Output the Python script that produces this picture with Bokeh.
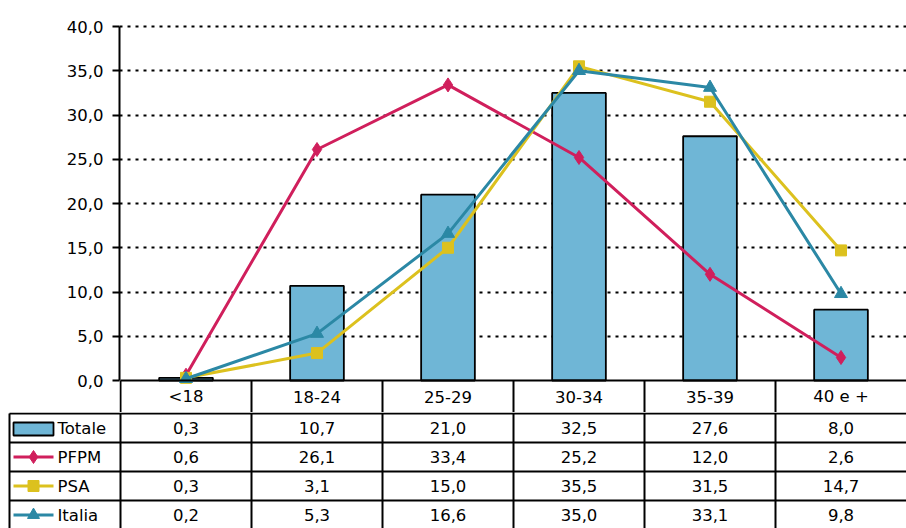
from bokeh.plotting import figure
from bokeh.layouts import column
from bokeh.models import Range1d, FixedTicker, CustomJSTickFormatter
from bokeh.core.properties import value
from bokeh.embed import file_html
from bokeh.resources import INLINE

# ---------------- data ----------------
categories = ["<18", "18-24", "25-29", "30-34", "35-39", "40 e +"]
totale = [0.3, 10.7, 21.0, 32.5, 27.6, 8.0]
pfpm = [0.6, 26.1, 33.4, 25.2, 12.0, 2.6]
psa = [0.3, 3.1, 15.0, 35.5, 31.5, 14.7]
italia = [0.2, 5.3, 16.6, 35.0, 33.1, 9.8]
series_names = ["Totale", "PFPM", "PSA", "Italia"]
y_ticks = [0, 5, 10, 15, 20, 25, 30, 35, 40]

# ---------------- style ----------------
FONT_NAME = "DejaVu Sans"
FONT = value(FONT_NAME)
FS = value("16.5px")
BAR_C = "#6fb6d6"
PFPM_C = "#d01f5c"
PSA_C = "#dcc11e"
ITA_C = "#2b88a5"
BORDER_W = 2

FIG_W = 906
LEFT = 120            # px from picture left to the chart's y axis
COL_W = (FIG_W - LEFT) / 6.0
PAD_TOP = 3           # px of headroom above the 40 gridline
TOP_B = 26 - PAD_TOP
PX = 354 / 40.0       # px per data unit in the chart
HEADER_H = 32
ROW_H = 29
BOT_H = 116

n = len(categories)
xc = [i + 0.5 for i in range(n)]

# ---------------- top figure (chart + header row) ----------------
y_start = -HEADER_H / PX
y_end = 40 + PAD_TOP / PX
top_h = 26 + 354 + HEADER_H
p = figure(width=FIG_W, height=top_h, output_backend="svg", toolbar_location=None,
           x_range=Range1d(-1.0 / COL_W, n), y_range=Range1d(y_start, y_end),
           x_axis_location=None, min_border_left=LEFT - 1, min_border_right=0,
           min_border_top=TOP_B, min_border_bottom=0)
p.frame_align = False
p.outline_line_color = None
p.xgrid.visible = False
p.ygrid.ticker = FixedTicker(ticks=y_ticks[1:])
p.ygrid.grid_line_color = "black"
p.ygrid.grid_line_dash = "3 5"
p.ygrid.grid_line_width = 2

ax = p.yaxis[0]
ax.ticker = FixedTicker(ticks=y_ticks)
ax.bounds = (0, 40)
ax.formatter = CustomJSTickFormatter(code="return tick.toFixed(1).replace('.', ',');")
ax.axis_line_width = 2
ax.axis_line_color = "black"
ax.major_tick_line_width = 2
ax.major_tick_line_color = "black"
ax.major_tick_out = 7
ax.major_tick_in = 0
ax.minor_tick_line_color = None
ax.major_label_text_font = FONT_NAME
ax.major_label_text_font_size = "16.5px"
ax.major_label_text_color = "black"
ax.major_label_standoff = 9

# bars
p.vbar(x=xc, top=totale, bottom=0, width=0.41, fill_color=BAR_C,
       line_color="black", line_width=1.8)

# lines + markers
p.line(xc, pfpm, line_color=PFPM_C, line_width=3)
p.scatter(xc, pfpm, marker="diamond", size=14, fill_color=PFPM_C, line_color=PFPM_C)
p.line(xc, psa, line_color=PSA_C, line_width=3)
p.scatter(xc, psa, marker="square", size=11, fill_color=PSA_C, line_color=PSA_C)
p.line(xc, italia, line_color=ITA_C, line_width=3)
p.scatter(xc, italia, marker="triangle", size=13, fill_color=ITA_C, line_color=ITA_C)

# header row borders + labels
p.segment(x0=[0], y0=[0], x1=[n], y1=[0], line_color="black", line_width=BORDER_W)
p.segment(x0=list(range(n)), y0=[0] * n, x1=list(range(n)), y1=[y_start] * n,
          line_color="black", line_width=BORDER_W)
p.text(x=xc, y=[y_start / 2] * n, text=categories, text_font=FONT, text_font_size=FS,
       text_align="center", text_baseline="middle", text_color="black")

# ---------------- bottom figure (data table) ----------------
x0b = -LEFT / COL_W
t = figure(width=FIG_W, height=BOT_H, output_backend="svg", toolbar_location=None,
           x_range=Range1d(x0b, n), y_range=Range1d(-(BOT_H - 1), 1),
           x_axis_location=None, y_axis_location=None,
           min_border=0)
t.frame_align = False
t.outline_line_color = None
t.grid.visible = False

rows = [totale, pfpm, psa, italia]
nr = len(rows)
row_tops = [-i * ROW_H for i in range(nr)]
row_mid = [-(i + 0.5) * ROW_H for i in range(nr)]


def px2x(px):
    return x0b + px / COL_W


left_line = px2x(9)

# horizontal borders
t.segment(x0=[left_line] * nr, y0=row_tops, x1=[n] * nr, y1=row_tops,
          line_color="black", line_width=BORDER_W)
# vertical borders
vx = [left_line] + list(range(n))
t.segment(x0=vx, y0=[0] * len(vx), x1=vx, y1=[-(BOT_H + 5)] * len(vx),
          line_color="black", line_width=BORDER_W)

# cell values
for r, vals in enumerate(rows):
    t.text(x=xc, y=[row_mid[r]] * n,
           text=[f"{v:.1f}".replace(".", ",") for v in vals],
           text_font=FONT, text_font_size=FS, text_align="center",
           text_baseline="middle", text_color="black")

# legend keys in label column
t.rect(x=[px2x(33)], y=[row_mid[0] - 1], width=40 / COL_W, height=13,
       fill_color=BAR_C, line_color="black", line_width=1.8)
key_colors = [PFPM_C, PSA_C, ITA_C]
key_markers = ["diamond", "square", "triangle"]
key_sizes = [13, 11, 12]
for k in range(3):
    yk = row_mid[k + 1]
    t.segment(x0=[px2x(13)], y0=[yk], x1=[px2x(53)], y1=[yk],
              line_color=key_colors[k], line_width=3)
    t.scatter([px2x(33)], [yk], marker=key_markers[k], size=key_sizes[k],
              fill_color=key_colors[k], line_color=key_colors[k])
t.text(x=[px2x(57)] * nr, y=row_mid, text=series_names, text_font=FONT,
       text_font_size=FS, text_align="left", text_baseline="middle",
       text_color="black")

layout = column(p, t, spacing=0)
open("out.html", "w").write(file_html(layout, INLINE))
